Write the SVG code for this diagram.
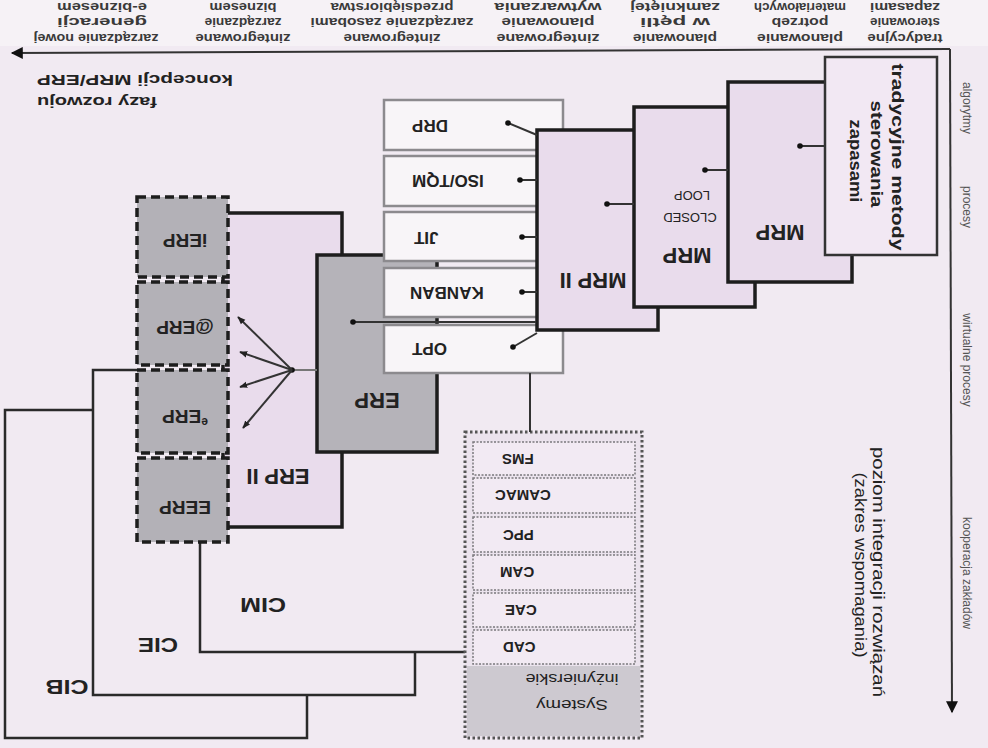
<svg xmlns="http://www.w3.org/2000/svg" width="988" height="748" viewBox="0 0 988 748">
<defs>
<marker id="ax" viewBox="0 0 10 10" refX="9" refY="5" markerWidth="7" markerHeight="6" orient="auto"><path d="M0,0 L10,5 L0,10 z" fill="#111"/></marker>
<marker id="fa" viewBox="0 0 10 10" refX="9" refY="5" markerWidth="4" markerHeight="4" orient="auto"><path d="M0,1 L10,5 L0,9 z" fill="#222"/></marker>
</defs>
<style>
.t{font-family:"Liberation Sans",Arial,sans-serif;fill:#222;text-anchor:middle;dominant-baseline:central}
.b{font-weight:bold}
.e{text-anchor:end}
.box{fill:#e9dcec;stroke:#1d1d1d;stroke-width:3.5}
.trad{fill:#f2e8f3;stroke:#333;stroke-width:2.5}
.gray{fill:#b5b3b9;stroke:#1d1d1d;stroke-width:3.5}
.sm{fill:#f8f5f8;stroke:#8c8a8e;stroke-width:2.5}
.dash{fill:#b3b1b7;stroke:#1d1d1d;stroke-width:3.5;stroke-dasharray:9 5}
.sys{fill:#ebe3ed;stroke:#555;stroke-width:3;stroke-dasharray:2.5 2.5}
.in{fill:#f2eaf3;stroke:#7a787c;stroke-width:1.5;stroke-dasharray:2 1.5}
.ln{fill:none;stroke:#333;stroke-width:2}
.c{fill:none;stroke:#2a2a2a;stroke-width:2.5}
.h{font-size:13px;font-weight:bold;fill:#3a3a3a}
.v{font-size:12px;fill:#555}
</style>
<rect width="988" height="748" fill="#f1eaf2"/>
<rect width="988" height="46" fill="#f6f2f6"/>

<g id="axes">
<line x1="950" y1="49" x2="12" y2="53" stroke="#333" stroke-width="2" marker-end="url(#ax)"/>
<line x1="950" y1="49" x2="952" y2="712" stroke="#333" stroke-width="2" marker-end="url(#ax)"/>
</g>

<g id="header">
<text class="t h" x="905" y="38" textLength="75" lengthAdjust="spacingAndGlyphs" transform="rotate(180 905 38)">tradycyjne</text>
<text class="t h" x="905" y="22" textLength="70" lengthAdjust="spacingAndGlyphs" transform="rotate(180 905 22)">sterowanie</text>
<text class="t h" x="905" y="7" textLength="70" lengthAdjust="spacingAndGlyphs" transform="rotate(180 905 7)">zapasami</text>
<text class="t h" x="800" y="38" textLength="86" lengthAdjust="spacingAndGlyphs" transform="rotate(180 800 38)">planowanie</text>
<text class="t h" x="800" y="22" textLength="57" lengthAdjust="spacingAndGlyphs" transform="rotate(180 800 22)">potrzeb</text>
<text class="t h" x="800" y="7" textLength="92" lengthAdjust="spacingAndGlyphs" transform="rotate(180 800 7)">materiałowych</text>
<text class="t h" x="675" y="38" textLength="84" lengthAdjust="spacingAndGlyphs" transform="rotate(180 675 38)">planowanie</text>
<text class="t h" x="675" y="22" textLength="70" lengthAdjust="spacingAndGlyphs" transform="rotate(180 675 22)">w pętli</text>
<text class="t h" x="675" y="7" textLength="90" lengthAdjust="spacingAndGlyphs" transform="rotate(180 675 7)">zamkniętej</text>
<text class="t h" x="548" y="38" textLength="103" lengthAdjust="spacingAndGlyphs" transform="rotate(180 548 38)">zintegrowane</text>
<text class="t h" x="548" y="22" textLength="93" lengthAdjust="spacingAndGlyphs" transform="rotate(180 548 22)">planowanie</text>
<text class="t h" x="548" y="7" textLength="107" lengthAdjust="spacingAndGlyphs" transform="rotate(180 548 7)">wytwarzania</text>
<text class="t h" x="392" y="38" textLength="97" lengthAdjust="spacingAndGlyphs" transform="rotate(180 392 38)">zintegrowane</text>
<text class="t h" x="392" y="22" textLength="163" lengthAdjust="spacingAndGlyphs" transform="rotate(180 392 22)">zarządzanie zasobami</text>
<text class="t h" x="392" y="7" textLength="123" lengthAdjust="spacingAndGlyphs" transform="rotate(180 392 7)">przedsiębiorstwa</text>
<text class="t h" x="243" y="38" textLength="95" lengthAdjust="spacingAndGlyphs" transform="rotate(180 243 38)">zintegrowane</text>
<text class="t h" x="243" y="22" textLength="77" lengthAdjust="spacingAndGlyphs" transform="rotate(180 243 22)">zarządzanie</text>
<text class="t h" x="243" y="7" textLength="67" lengthAdjust="spacingAndGlyphs" transform="rotate(180 243 7)">biznesem</text>
<text class="t h" x="96" y="38" textLength="125" lengthAdjust="spacingAndGlyphs" transform="rotate(180 96 38)">zarządzanie nowej</text>
<text class="t h" x="102" y="22" textLength="90" lengthAdjust="spacingAndGlyphs" transform="rotate(180 102 22)">generacji</text>
<text class="t h" x="102" y="7" textLength="90" lengthAdjust="spacingAndGlyphs" transform="rotate(180 102 7)">e-biznesem</text>
<text class="t b" x="135" y="80" font-size="15" textLength="196" lengthAdjust="spacingAndGlyphs" transform="rotate(180 135 80)">koncepcji MRP/ERP</text>
<text class="t b" x="97" y="102" font-size="15" textLength="120" lengthAdjust="spacingAndGlyphs" transform="rotate(180 97 102)">fazy rozwoju</text>
</g>

<g id="axis-labels">
<text class="t v" x="967" y="108" transform="rotate(90 967 108)">algorytmy</text>
<text class="t v" x="967" y="207" transform="rotate(90 967 207)">procesy</text>
<text class="t v" x="967" y="360" transform="rotate(90 967 360)">wirtualne procesy</text>
<text class="t v" x="967" y="573" transform="rotate(90 967 573)">kooperacja zakładów</text>
<text class="t" x="878" y="572" font-size="16" fill="#333" textLength="250" lengthAdjust="spacingAndGlyphs" transform="rotate(90 878 572)">poziom integracji rozwiązań</text>
<text class="t" x="860" y="565" font-size="16" fill="#333" textLength="185" lengthAdjust="spacingAndGlyphs" transform="rotate(90 860 565)">(zakres wspomagania)</text>
</g>

<g id="cim-lines">
<path class="c" d="M200 542 V652 H467"/>
<path class="c" d="M137 370 H93 V695 H415 V652"/>
<path class="c" d="M92 410 H5 V738 H307 V695"/>
<text class="t b" x="263" y="605" font-size="20" textLength="46" lengthAdjust="spacingAndGlyphs" transform="rotate(180 263 605)">CIM</text>
<text class="t b" x="158" y="645" font-size="20" textLength="40" lengthAdjust="spacingAndGlyphs" transform="rotate(180 158 645)">CIE</text>
<text class="t b" x="67" y="687" font-size="20" textLength="43" lengthAdjust="spacingAndGlyphs" transform="rotate(180 67 687)">CIB</text>
</g>

<g id="erp2">
<rect class="box" x="223" y="213" width="119" height="314"/>
<text class="t b" x="278" y="476" font-size="22" transform="rotate(180 278 476)">ERP II</text>
</g>
<g id="erp">
<rect class="gray" x="317" y="255" width="120" height="197"/>
<text class="t b" x="377" y="400" font-size="22" transform="rotate(180 377 400)">ERP</text>
</g>

<g id="drp"><rect class="sm" x="384" y="100" width="179" height="50"/><text class="t b e" x="412" y="125" font-size="17" transform="rotate(180 412 125)">DRP</text></g>
<g id="isotqm"><rect class="sm" x="384" y="156" width="179" height="50"/><text class="t b e" x="412" y="180" font-size="17" transform="rotate(180 412 180)">ISO/TQM</text></g>
<g id="jit"><rect class="sm" x="384" y="212" width="179" height="49"/><text class="t b e" x="414" y="237" font-size="17" transform="rotate(180 414 237)">JIT</text></g>
<g id="kanban"><rect class="sm" x="384" y="268" width="179" height="49"/><text class="t b e" x="410" y="292" font-size="17" transform="rotate(180 410 292)">KANBAN</text></g>
<g id="opt"><rect class="sm" x="384" y="325" width="179" height="48"/><text class="t b e" x="412" y="348" font-size="17" transform="rotate(180 412 348)">OPT</text></g>

<g id="mrp2">
<rect class="box" x="537" y="130" width="121" height="200"/>
<text class="t b" x="593" y="280" font-size="22" transform="rotate(180 593 280)">MRP II</text>
</g>
<g id="mrp-closed-loop">
<rect class="box" x="634" y="107" width="121" height="200"/>
<text class="t b" x="687" y="255" font-size="22" transform="rotate(180 687 255)">MRP</text>
<text class="t" x="690" y="217" font-size="13" transform="rotate(180 690 217)">CLOSED</text>
<text class="t" x="692" y="195" font-size="13" transform="rotate(180 692 195)">LOOP</text>
</g>
<g id="mrp">
<rect class="box" x="728" y="82" width="124" height="200"/>
<text class="t b" x="780" y="232" font-size="22" transform="rotate(180 780 232)">MRP</text>
</g>
<g id="tradycyjne">
<rect class="trad" x="825" y="57" width="112" height="198"/>
<text class="t b" x="897" y="157" font-size="16" textLength="187" lengthAdjust="spacingAndGlyphs" transform="rotate(90 897 157)">tradycyjne metody</text>
<text class="t b" x="876" y="154" font-size="16" textLength="107" lengthAdjust="spacingAndGlyphs" transform="rotate(90 876 154)">sterowania</text>
<text class="t b" x="855" y="161" font-size="16" textLength="83" lengthAdjust="spacingAndGlyphs" transform="rotate(90 855 161)">zapasami</text>
</g>

<g id="ierp"><rect class="dash" x="137" y="197" width="91" height="80"/><text class="t b" x="185" y="240" font-size="19" transform="rotate(180 185 240)">iERP</text></g>
<g id="aterp"><rect class="dash" x="137" y="282" width="91" height="83"/><text class="t b" x="185" y="327" font-size="19" transform="rotate(180 185 327)">@ERP</text></g>
<g id="eerp-small"><rect class="dash" x="137" y="370" width="91" height="83"/><text class="t b" x="185" y="417" font-size="19" transform="rotate(180 185 417)"><tspan font-size="12" dy="-5">e</tspan><tspan dy="5">ERP</tspan></text></g>
<g id="eerp"><rect class="dash" x="137" y="458" width="91" height="84"/><text class="t b" x="185" y="507" font-size="19" transform="rotate(180 185 507)">EERP</text></g>

<g id="systemy">
<rect class="sys" x="465" y="432" width="177" height="306"/>
<rect x="467" y="666" width="173" height="70" fill="#cdc9d0"/>
<rect class="in" x="473" y="442" width="162" height="33"/>
<rect class="in" x="473" y="478" width="162" height="35"/>
<rect class="in" x="473" y="517" width="162" height="35"/>
<rect class="in" x="473" y="555" width="162" height="35"/>
<rect class="in" x="473" y="593" width="162" height="34"/>
<rect class="in" x="473" y="630" width="162" height="34"/>
<text class="t b e" x="502" y="459" font-size="15" transform="rotate(180 502 459)">FMS</text>
<text class="t b e" x="495" y="495" font-size="15" transform="rotate(180 495 495)">CAMAC</text>
<text class="t b e" x="503" y="535" font-size="15" transform="rotate(180 503 535)">PPC</text>
<text class="t b e" x="500" y="572" font-size="15" transform="rotate(180 500 572)">CAM</text>
<text class="t b e" x="505" y="610" font-size="15" transform="rotate(180 505 610)">CAE</text>
<text class="t b e" x="503" y="647" font-size="15" transform="rotate(180 503 647)">CAD</text>
<text class="t" x="572" y="705" font-size="14" fill="#444" textLength="72" lengthAdjust="spacingAndGlyphs" transform="rotate(180 572 705)">Systemy</text>
<text class="t" x="572" y="679" font-size="14" fill="#444" textLength="93" lengthAdjust="spacingAndGlyphs" transform="rotate(180 572 679)">inżynierskie</text>
</g>

<g id="connectors" fill="#111">
<line class="ln" x1="825" y1="146" x2="800" y2="146"/><circle cx="800" cy="146" r="2.8"/>
<line class="ln" x1="728" y1="170" x2="705" y2="170"/><circle cx="705" cy="170" r="2.8"/>
<line class="ln" x1="634" y1="204" x2="607" y2="204"/><circle cx="607" cy="204" r="2.8"/>
<line class="ln" x1="537" y1="135" x2="508" y2="123"/><circle cx="508" cy="123" r="2.8"/>
<line class="ln" x1="537" y1="180" x2="520" y2="180"/><circle cx="520" cy="180" r="2.8"/>
<line class="ln" x1="537" y1="237" x2="522" y2="237"/><circle cx="522" cy="237" r="2.8"/>
<line class="ln" x1="537" y1="292" x2="522" y2="292"/><circle cx="522" cy="292" r="2.8"/>
<line class="ln" x1="537" y1="333" x2="513" y2="347"/><circle cx="513" cy="347" r="2.8"/>
<line class="ln" x1="353" y1="322" x2="536" y2="322"/><circle cx="353" cy="322" r="2.8"/>
<line class="ln" x1="530" y1="373" x2="530" y2="432"/>
<line x1="317" y1="370" x2="292" y2="370" stroke="#777" stroke-width="2"/><circle cx="292" cy="370" r="2.8"/>
<line class="ln" x1="292" y1="370" x2="238" y2="317" marker-end="url(#fa)"/>
<line class="ln" x1="292" y1="370" x2="240" y2="352" marker-end="url(#fa)"/>
<line class="ln" x1="292" y1="370" x2="240" y2="387" marker-end="url(#fa)"/>
<line class="ln" x1="292" y1="370" x2="243" y2="428" marker-end="url(#fa)"/>
</g>
</svg>
